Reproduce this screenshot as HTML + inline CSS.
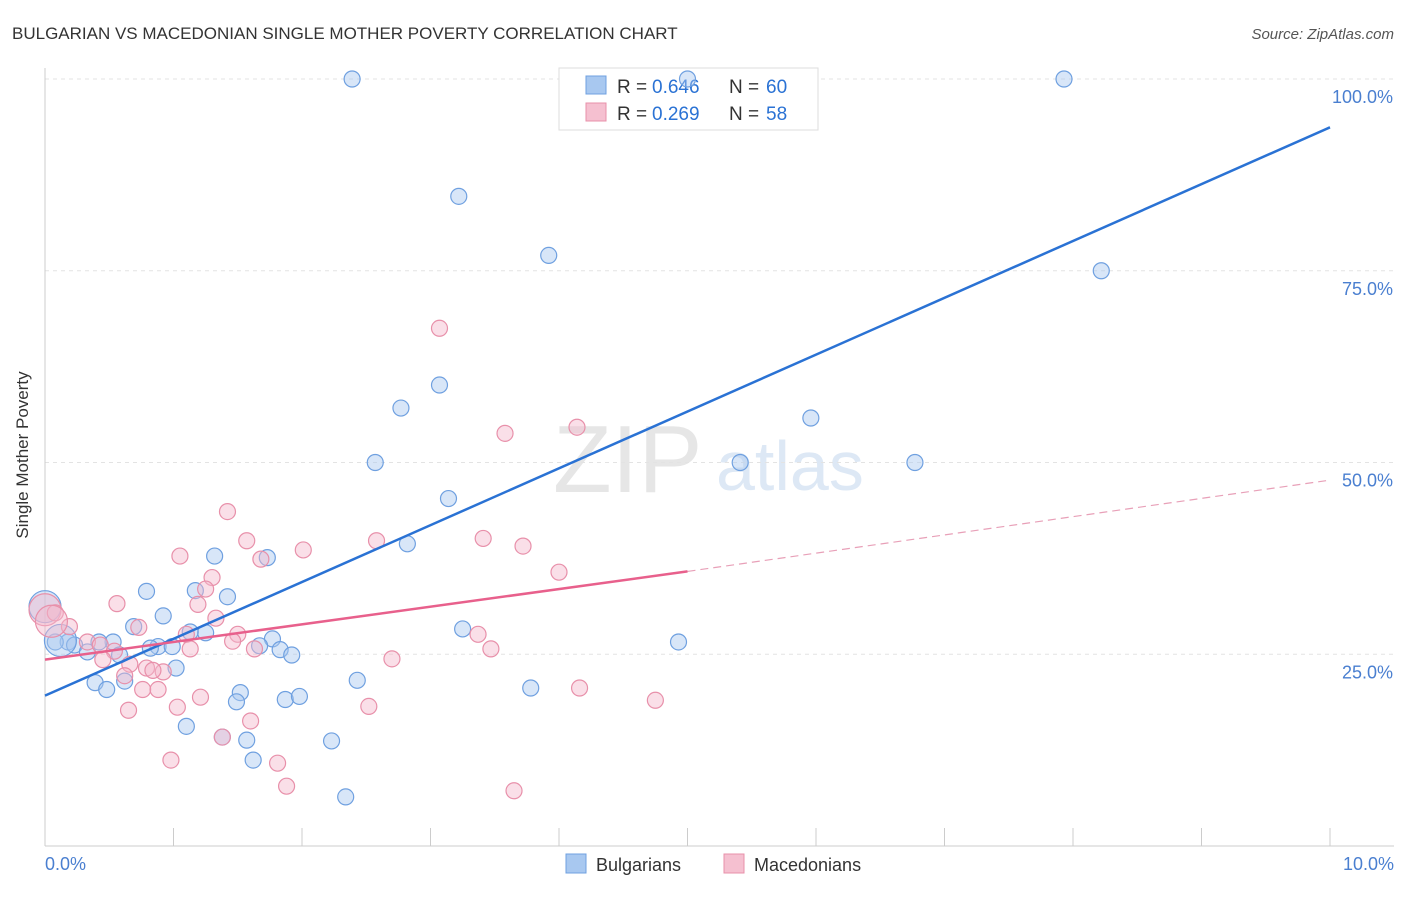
<!DOCTYPE html>
<html><head><meta charset="utf-8"><style>
body{margin:0;background:#fff;font-family:"Liberation Sans",sans-serif}
svg text{font-family:"Liberation Sans",sans-serif}
</style></head><body>
<svg width="1406" height="892" viewBox="0 0 1406 892">
<text x="12" y="39" font-size="17" fill="#333">BULGARIAN VS MACEDONIAN SINGLE MOTHER POVERTY CORRELATION CHART</text>
<text x="1394" y="39" font-size="15" fill="#555" text-anchor="end" font-style="italic">Source: ZipAtlas.com</text>
<text x="553" y="492" font-size="96" fill="#e6e6e6" font-family="Liberation Serif">ZIP</text>
<text x="716" y="490" font-size="70" fill="#dde8f5">atlas</text>
<g id="grid"></g><g id="axes"></g>
<g>
<rect x="559" y="68" width="259" height="62" fill="#fff" stroke="#ddd"/>
<rect x="586" y="76" width="20" height="18" fill="#a8c8f0" stroke="#6fa0e0"/>
<rect x="586" y="103" width="20" height="18" fill="#f5c0d0" stroke="#e890aa"/>
<text x="617" y="93" font-size="19" fill="#333">R =</text><text x="652" y="93" font-size="19" fill="#2a72d4">0.646</text>
<text x="729" y="93" font-size="19" fill="#333">N =</text><text x="766" y="93" font-size="19" fill="#2a72d4">60</text>
<text x="617" y="120" font-size="19" fill="#333">R =</text><text x="652" y="120" font-size="19" fill="#2a72d4">0.269</text>
<text x="729" y="120" font-size="19" fill="#333">N =</text><text x="766" y="120" font-size="19" fill="#2a72d4">58</text>
</g>
<g id="pts"></g><g id="lines"></g>
<text x="28" y="455" font-size="17" fill="#333" text-anchor="middle" transform="rotate(-90 28 455)">Single Mother Poverty</text>
<text x="45" y="870" font-size="18" fill="#4a7fd0">0.0%</text>
<text x="1394" y="870" font-size="18" fill="#4a7fd0" text-anchor="end">10.0%</text>
<g>
<rect x="566" y="854" width="20" height="19" fill="#a8c8f0" stroke="#6fa0e0"/>
<text x="596" y="871" font-size="18" fill="#333">Bulgarians</text>
<rect x="724" y="854" width="20" height="19" fill="#f5c0d0" stroke="#e890aa"/>
<text x="754" y="871" font-size="18" fill="#333">Macedonians</text>
</g>
</svg>
<script>
const yTicks=[25,50,75,100];
const yTickLabels=["25.0%","50.0%","75.0%","100.0%"];
const xTicks=[0,1,2,3,4,5,6,7,8,9,10];
const bulgX=[2.39,5.0,7.93,3.22,3.92,8.22,3.07,2.77,5.96,2.57,5.41,6.77,3.14,2.82,1.73,1.32,0.79,1.17,1.42,0.92,0.69,1.25,1.13,1.77,1.67,1.83,1.92,0.88,0.99,0.82,0.53,0.42,0.18,0.08,0.23,0.33,0.58,1.02,0.39,0.62,0.48,1.52,1.49,1.87,1.98,2.43,3.25,3.78,4.93,1.1,1.38,1.57,2.23,1.62,2.34,0.0,0.12];
const bulgY=[100,100,100,84.7,77,75,60.1,57.1,55.8,50,50,50,45.3,39.4,37.6,37.8,33.2,33.3,32.5,30,28.6,27.8,27.9,27,26.1,25.6,24.9,26,26,25.8,26.6,26.6,26.6,26.6,26.2,25.3,24.9,23.2,21.3,21.5,20.4,20,18.8,19.1,19.5,21.6,28.3,20.6,26.6,15.6,14.2,13.8,13.7,11.2,6.4,31.2,26.8];
const macX=[3.07,3.58,4.14,1.42,1.57,2.58,3.41,3.72,2.01,1.05,1.68,4.0,1.3,1.25,0.56,1.19,0.0,0.08,1.33,3.37,0.73,1.5,1.1,0.19,0.33,0.43,0.54,1.46,1.63,1.13,3.47,2.7,0.45,0.66,0.79,0.92,0.84,0.62,0.76,0.88,4.16,4.75,1.21,1.03,2.52,0.65,1.6,1.38,0.98,1.81,1.88,3.65,0.05];
const macY=[67.5,53.8,54.6,43.6,39.8,39.8,40.1,39.1,38.6,37.8,37.4,35.7,35,33.5,31.6,31.5,30.8,30.4,29.7,27.6,28.5,27.6,27.6,28.6,26.6,26.2,25.4,26.7,25.7,25.7,25.7,24.4,24.3,23.7,23.2,22.7,22.9,22.2,20.4,20.4,20.6,19,19.4,18.1,18.2,17.7,16.3,14.2,11.2,10.8,7.8,7.2,29.3];
const bulgLine=[19.6,93.7], macLine=[24.3,35.8,47.7];
const X=v=>45+v*128.5, Y=v=>846-v*7.67;
const NS="http://www.w3.org/2000/svg";
function mk(t,a,p){const e=document.createElementNS(NS,t);for(const k in a)e.setAttribute(k,a[k]);document.getElementById(p).appendChild(e);return e;}
yTicks.forEach((t,i)=>{
 const l=mk('line',{x1:45,x2:1394,y1:Y(t),y2:Y(t),stroke:'#e3e3e3','stroke-dasharray':'4,4'},'grid');
 
 
 const tx=mk('text',{x:1393,y:Y(t)+24,'font-size':18,fill:'#4a7fd0','text-anchor':'end'},'grid');
 tx.textContent=yTickLabels[i];
 
 
});
const ax=mk('line',{x1:45,x2:45,y1:68,y2:846,stroke:'#ccc'},'axes');


const bx=mk('line',{x1:45,x2:1394,y1:846,y2:846,stroke:'#ccc'},'axes');


xTicks.forEach(t=>{
 const l=mk('line',{x1:X(t),x2:X(t),y1:828,y2:846,stroke:'#ccc'},'axes');
 
 
});
function pts(xs,ys,fill,stroke,name){xs.forEach((x,i)=>{
 const big=(x<0.15&&(i>=xs.length-2||x===0));
 const c=mk('circle',{cx:X(x),cy:Y(ys[i]),r:big?16:8,fill:fill,'fill-opacity':0.45,stroke:stroke,'stroke-width':1.2},'pts');
 
 
});}
pts(bulgX,bulgY,'#a8c8f0','#6fa0e0','bulgarian-point');
pts(macX,macY,'#f5b8cb','#e890aa','macedonian-point');
const bl=mk('line',{x1:X(0),y1:Y(bulgLine[0]),x2:X(10),y2:Y(bulgLine[1]),stroke:'#2a72d4','stroke-width':2.5},'lines');


const ml=mk('line',{x1:X(0),y1:Y(macLine[0]),x2:X(5),y2:Y(macLine[1]),stroke:'#e8608c','stroke-width':2.5},'lines');


const md=mk('line',{x1:X(5),y1:Y(macLine[1]),x2:X(10),y2:Y(macLine[2]),stroke:'#e8a0b8','stroke-width':1.2,'stroke-dasharray':'8,5'},'lines');


</script>
</body></html>
